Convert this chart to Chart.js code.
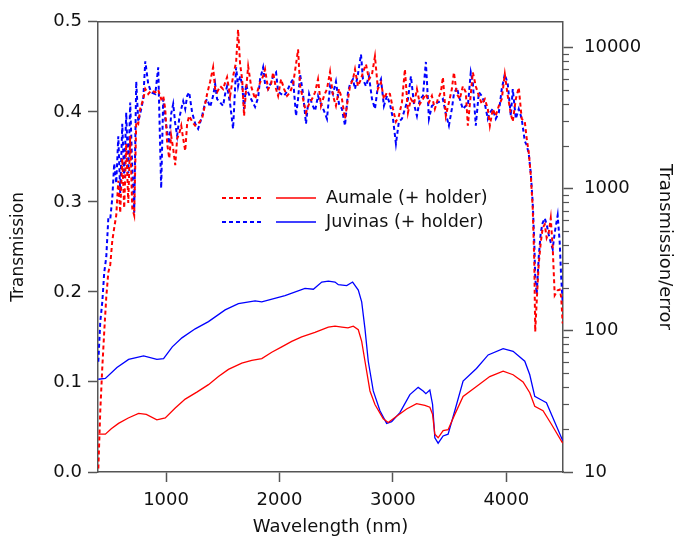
<!DOCTYPE html>
<html>
<head>
<meta charset="utf-8">
<script src="https://cdn.jsdelivr.net/npm/chart.js@4.4.1/dist/chart.umd.min.js"></script>
<style>
  html, body { margin: 0; padding: 0; background: #fff; }
  #wrap { width: 675px; height: 539px; position: relative; }
</style>
</head>
<body>
<div id="wrap"><canvas id="chart"></canvas></div>
<script>
// ==========================================
// 1. DATA
// ==========================================

// Smooth transmission curves (left axis)
const wlAumale = [403,465,517,581,667,758,826,919,993,1081,1169,1275,1374,1462,1550,1668,1756,1844,1932,2020,
  2108,2196,2313,2431,2490,2551,2604,2651,2695,2725,2754,2798,2842,2915,2959,3033,3121,3209,3282,3326,
  3350,3370,3399,3443,3487,3546,3619,3737,3854,3972,4060,4148,4207,4251,4324,4398,4497];
const aumaleT = [0.042,0.042,0.048,0.054,0.060,0.065,0.064,0.058,0.060,0.071,0.081,0.089,0.097,0.106,0.114,0.121,0.124,0.126,0.133,0.139,
  0.145,0.150,0.155,0.161,0.162,0.161,0.160,0.162,0.158,0.145,0.123,0.090,0.075,0.059,0.055,0.062,0.070,0.076,0.074,0.072,
  0.064,0.042,0.038,0.046,0.047,0.064,0.084,0.095,0.106,0.112,0.108,0.100,0.088,0.073,0.068,0.053,0.032];

const wlJuvinas = [403,465,567,670,802,919,978,1055,1140,1257,1374,1521,1638,1785,1844,2049,2225,2299,2373,2431,
  2490,2519,2593,2645,2695,2725,2754,2783,2827,2886,2945,2989,3062,3150,3223,3267,3291,3326,3350,3370,
  3399,3443,3487,3546,3619,3737,3840,3972,4060,4163,4207,4251,4310,4354,4497];
const juvinasT = [0.103,0.104,0.116,0.125,0.129,0.125,0.126,0.139,0.149,0.159,0.167,0.180,0.187,0.190,0.189,0.196,0.204,0.203,0.211,0.212,
  0.211,0.208,0.207,0.211,0.202,0.189,0.159,0.123,0.090,0.068,0.054,0.056,0.066,0.086,0.094,0.090,0.087,0.091,0.075,0.038,
  0.032,0.040,0.042,0.068,0.101,0.115,0.130,0.137,0.134,0.123,0.108,0.084,0.080,0.077,0.035];

// Noisy transmission/error curves (right, log axis) share one wavelength grid
const wlNoise = [
  403,420,438,455,473,491,508,526,543,561,
  579,596,614,631,649,667,684,702,719,737,
  755,772,799,817,843,869,905,931,957,975,
  993,1010,1028,1045,1063,1081,1098,1116,1134,1151,
  1169,1186,1204,1230,1257,1283,1318,1345,1362,1389,
  1415,1433,1450,1477,1503,1521,1538,1565,1591,1618,
  1635,1653,1671,1688,1706,1724,1750,1785,1812,1829,
  1856,1873,1900,1926,1944,1970,1988,2014,2041,2067,
  2093,2120,2146,2164,2182,2208,2234,2261,2287,2314,
  2340,2366,2393,2419,2446,2472,2498,2525,2551,2578,
  2604,2622,2648,2666,2692,2719,2736,2763,2789,2816,
  2842,2868,2895,2921,2948,2974,3001,3027,3053,3080,
  3106,3133,3159,3186,3212,3238,3265,3291,3318,3344,
  3370,3397,3423,3441,3467,3494,3520,3538,3564,3590,
  3617,3643,3661,3687,3705,3731,3758,3784,3811,3837,
  3855,3881,3907,3934,3960,3987,4013,4040,4057,4084,
  4110,4136,4163,4180,4198,4216,4233,4247,4255,4268,
  4286,4304,4321,4339,4356,4374,4392,4409,4427,4453,
  4471,4484,4497];
const aumaleSNR = [
  10.6,27,55,98,172,257,290,430,530,650,
  1140,676,1640,730,2080,794,2370,730,650,2980,
  2880,3660,4300,5060,4670,4930,4800,5000,4300,4530,
  3660,2080,1640,2370,1920,1470,2260,2450,2790,2260,
  1850,2880,3270,2980,2790,2880,3120,3970,4670,5720,
  7200,5060,4800,5300,5060,5620,6140,4530,6230,7860,
  13300,7570,5940,3270,5060,7320,5300,4300,5060,5620,
  6230,6980,5060,5480,6640,5060,4530,5940,5060,4530,
  4800,5480,7570,9640,5300,4300,3450,3970,4300,4800,
  5940,3850,4530,5060,6700,4530,3850,5060,4300,3120,
  4300,5300,5940,6980,5300,5940,6640,7570,5940,6440,
  8600,5060,5620,4300,4800,4670,3660,2980,3270,4070,
  6980,3450,4300,3970,5060,3970,4300,4670,4070,4530,
  3660,4300,4800,6140,3270,4070,5060,6640,4670,4300,
  5300,4800,2790,4670,6640,5300,4530,3970,4300,3660,
  2790,3660,3270,3850,4300,6440,4530,3380,2980,4300,
  5180,3120,2980,2260,1810,1245,730,302,98,159,
  295,417,530,560,450,490,620,385,177,192,
  194,172,112];
const juvinasSNR = [
  60,115,159,257,330,620,610,860,1510,1095,
  2350,933,2880,1190,3450,1285,4070,1390,676,5720,
  2980,3380,4300,7950,5480,4800,4670,7200,1010,4300,
  3120,2530,2080,3380,3970,2880,2370,3120,3660,4150,
  3660,4530,4800,3450,2880,2650,3270,4070,4300,3780,
  4530,5480,4300,4070,3850,4670,5300,3970,2650,7200,
  5300,6230,5480,3660,5480,4800,4300,3780,4400,5940,
  7200,5480,5060,5620,6230,6640,4870,4670,4530,4870,
  5480,5940,3270,4300,6440,4670,2880,4670,3970,3550,
  4530,3970,3550,3120,5300,4670,5720,3970,3660,2790,
  4800,5480,5940,5060,6440,8890,5940,5300,6230,4300,
  3660,5300,5940,3850,4530,3970,3120,2080,2980,3120,
  3660,4300,6230,3970,3270,4300,4530,7860,3120,3850,
  3970,4070,4150,4300,3380,2790,3660,4670,5180,4300,
  3660,3850,3850,6640,5620,2790,4800,4530,3970,3120,
  3450,3660,3120,3450,5060,6440,5480,3270,5060,3120,
  3660,3120,2170,2030,1770,1285,794,417,237,180,
  330,490,575,620,560,475,417,375,490,650,
  417,237,159];

// Axis ticks
const wlTicks = [1000, 2000, 3000, 4000];
const transTicks = [0.0, 0.1, 0.2, 0.3, 0.4, 0.5];
const snrTicks = [10, 100, 1000, 10000];
const snrMinor = [20,30,40,50,60,70,80,90, 200,300,400,500,600,700,800,900, 2000,3000,4000,5000,6000,7000,8000,9000];

const seriesNames = ['Aumale (+ holder)', 'Juvinas (+ holder)'];

// ==========================================
// 2. STYLE
// ==========================================
const RED = '#ff0000';
const BLUE = '#0000ff';
const AXIS = '#555555';
const FONT = "'DejaVu Sans', sans-serif";
Chart.defaults.font.family = FONT;
Chart.defaults.color = '#111';

const pts = (xs, ys) => xs.map((x, i) => ({ x: x, y: ys[i] }));

// Top frame line + minor ticks on the log axis
const frameMinor = {
  id: 'frameMinor',
  afterDraw(chart) {
    const { ctx, chartArea } = chart;
    const s = chart.scales.y2;
    ctx.save();
    ctx.strokeStyle = AXIS;
    ctx.lineWidth = 1.5;
    ctx.beginPath();
    ctx.moveTo(chartArea.left, chartArea.top);
    ctx.lineTo(chartArea.right, chartArea.top);
    ctx.stroke();
    ctx.lineWidth = 1.2;
    snrMinor.forEach(v => {
      const py = Math.round(s.getPixelForValue(v)) + 0.5;
      ctx.beginPath();
      ctx.moveTo(chartArea.right, py);
      ctx.lineTo(chartArea.right + 6, py);
      ctx.stroke();
    });
    ctx.restore();
  }
};

// Legend: dashed sample, solid sample, label
const pairLegend = {
  id: 'pairLegend',
  afterDraw(chart) {
    const ctx = chart.ctx;
    const rows = [{ c: RED, y: 198, t: seriesNames[0] }, { c: BLUE, y: 222, t: seriesNames[1] }];
    ctx.save();
    rows.forEach(r => {
      ctx.strokeStyle = r.c;
      ctx.lineWidth = 2;
      ctx.setLineDash([4, 3]);
      ctx.beginPath(); ctx.moveTo(222, r.y); ctx.lineTo(261, r.y); ctx.stroke();
      ctx.setLineDash([]);
      ctx.lineWidth = 1.3;
      ctx.beginPath(); ctx.moveTo(276, r.y); ctx.lineTo(316, r.y); ctx.stroke();
      ctx.fillStyle = '#111';
      ctx.font = "17.5px " + FONT;
      ctx.textBaseline = 'middle';
      ctx.fillText(r.t, 326, r.y);
    });
    ctx.restore();
  }
};

// ==========================================
// 3. CHART
// ==========================================
const ctx = document.getElementById('chart').getContext('2d');
new Chart(ctx, {
  type: 'line',
  data: {
    datasets: [
      { label: seriesNames[0] + ' S/N', data: pts(wlNoise, aumaleSNR), yAxisID: 'y2',
        borderColor: RED, borderWidth: 2, borderDash: [4, 3] },
      { label: seriesNames[1] + ' S/N', data: pts(wlNoise, juvinasSNR), yAxisID: 'y2',
        borderColor: BLUE, borderWidth: 2, borderDash: [4, 3] },
      { label: seriesNames[0], data: pts(wlAumale, aumaleT), yAxisID: 'y',
        borderColor: RED, borderWidth: 1.3 },
      { label: seriesNames[1], data: pts(wlJuvinas, juvinasT), yAxisID: 'y',
        borderColor: BLUE, borderWidth: 1.3 }
    ]
  },
  options: {
    responsive: true,
    maintainAspectRatio: false,
    devicePixelRatio: 1,
    animation: false,
    layout: { padding: { top: 17, left: 0, right: 0, bottom: 0 } },
    elements: { point: { radius: 0 }, line: { tension: 0, fill: false } },
    plugins: { legend: { display: false }, tooltip: { enabled: false } },
    scales: {
      x: {
        type: 'linear', position: 'bottom', min: 400, max: 4500,
        afterBuildTicks: s => { s.ticks = wlTicks.map(v => ({ value: v })); },
        afterFit: s => { s.height = 67; },
        grid: { drawOnChartArea: false, tickLength: 10, tickColor: AXIS, tickWidth: 1.5 },
        border: { color: AXIS, width: 1.5 },
        ticks: { font: { size: 18 }, color: '#111', padding: 8, maxRotation: 0, autoSkip: false,
                 callback: v => String(v) },
        title: { display: true, text: 'Wavelength (nm)', font: { size: 18 }, color: '#111',
                 padding: { top: 0, bottom: 1 } }
      },
      y: {
        position: 'left', min: 0, max: 0.5,
        afterBuildTicks: s => { s.ticks = transTicks.map(v => ({ value: v })); },
        afterFit: s => { s.width = 98; },
        grid: { drawOnChartArea: false, tickLength: 10, tickColor: AXIS, tickWidth: 1.5 },
        border: { color: AXIS, width: 1.5 },
        ticks: { font: { size: 18 }, color: '#111', padding: 6, autoSkip: false,
                 callback: v => v.toFixed(1) },
        title: { display: true, text: 'Transmission', font: { size: 17 }, color: '#111',
                 padding: { top: 8, bottom: 0 } }
      },
      y2: {
        type: 'logarithmic', position: 'right', min: 10, max: 15100,
        afterBuildTicks: s => { s.ticks = snrTicks.map(v => ({ value: v })); },
        afterFit: s => { s.width = 112; },
        grid: { drawOnChartArea: false, tickLength: 10, tickColor: AXIS, tickWidth: 1.5 },
        border: { color: AXIS, width: 1.5 },
        ticks: { font: { size: 18 }, color: '#111', padding: 11, autoSkip: false,
                 callback: v => String(v) },
        title: { display: true, text: 'Transmission/error', font: { size: 18 }, color: '#111',
                 padding: { top: 0, bottom: 0 } }
      }
    }
  },
  plugins: [frameMinor, pairLegend]
});
</script>
</body>
</html>
